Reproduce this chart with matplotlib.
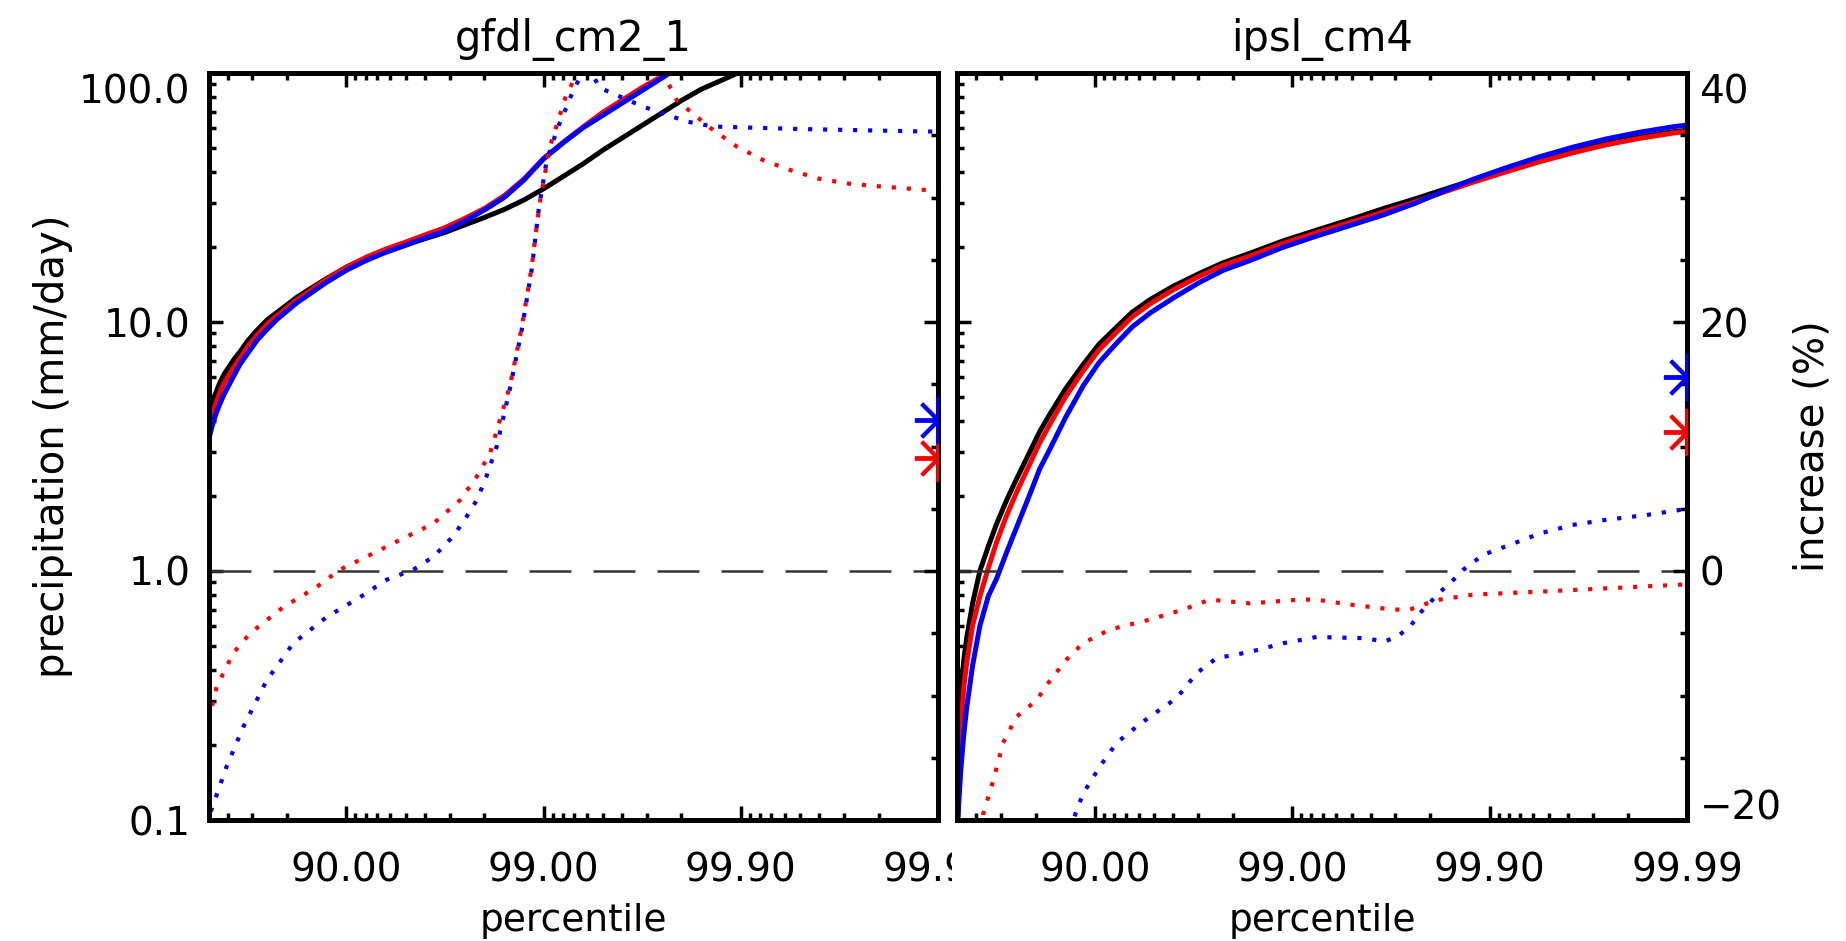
import numpy as np
import matplotlib
matplotlib.use("Agg")
import matplotlib.pyplot as plt
from matplotlib.patches import Rectangle
from matplotlib.ticker import FixedLocator, NullFormatter, LogLocator, MultipleLocator

# ---------------------------------------------------------------- data
titles = ["gfdl_cm2_1", "ipsl_cm4"]

x_major = [90, 99, 99.9, 99.99]
x_major_labels = ["90.00", "99.00", "99.90", "99.99"]
x_minor = [60, 70, 80, 91, 92, 93, 94, 95, 96, 97, 98,
           99.1, 99.2, 99.3, 99.4, 99.5, 99.6, 99.7, 99.8,
           99.91, 99.92, 99.93, 99.94, 99.95, 99.96, 99.97, 99.98]
y_ticks = [0.1, 1, 10, 100]
y_labels = ["0.1", "1.0", "10.0", "100.0"]
pct_ticks = [-20, 0, 20, 40]
pct_labels = ["\u221220", "0", "20", "40"]

# gfdl_cm2_1 : precipitation at each percentile (mm/day)
gfdl_pct = [50.0, 52.14, 54.29, 56.35, 58.31, 60.19, 62.85, 65.33, 68.38, 71.82,
            74.88, 77.61, 80.05, 82.22, 84.15, 87.41, 90.0, 92.06, 93.69, 94.99,
            96.02, 96.84, 97.49, 98.005, 98.415, 98.741, 99.0, 99.206, 99.369, 99.499,
            99.602, 99.684, 99.749, 99.8005, 99.8415, 99.874, 99.9, 99.911]
gfdl_black = [4.27, 4.79, 5.25, 5.75, 6.17, 6.53, 7.08, 7.59, 8.41, 9.33,
              10.23, 10.96, 11.75, 12.59, 13.34, 14.96, 16.6, 17.99, 19.28, 20.42,
              21.63, 22.91, 24.55, 26.3, 28.31, 30.9, 34.28, 38.46, 43.15, 48.98,
              54.95, 61.66, 69.18, 77.62, 86.1, 93.3, 101.2, 104.7]
gfdl_red = [3.76, 4.28, 4.75, 5.26, 5.68, 6.04, 6.61, 7.13, 7.98, 8.91,
            9.84, 10.62, 11.43, 12.3, 13.09, 14.86, 16.63, 18.2, 19.63, 20.94,
            22.39, 23.93, 26.06, 28.58, 32.14, 37.5, 45.4, 52.8, 60.7, 69.5,
            78.0, 87.5, 97.0, 105.9]
gfdl_blue = [3.35, 3.85, 4.32, 4.73, 5.13, 5.5, 6.1, 6.76, 7.5, 8.51,
             9.38, 10.28, 11.09, 11.97, 12.74, 14.45, 16.14, 17.66, 19.05, 20.32,
             21.78, 23.17, 25.41, 28.18, 31.62, 37.15, 45.19, 52.48, 60.26, 67.61,
             75.86, 85.11, 95.5, 107.2]

# gfdl_cm2_1 : percentage increase
gfdl_red_inc_p = [50.0, 54.5, 62.5, 69.2, 79.1, 85.8, 89.2, 92.1, 94.65, 96.37, 97.35,
                  97.82, 98.13, 98.52, 98.71, 98.85, 98.95, 99.067, 99.224, 99.345,
                  99.487, 99.637, 99.743, 99.789, 99.857, 99.895, 99.923, 99.944,
                  99.960, 99.972, 99.980, 99.9886, 99.99]
gfdl_red_inc = [-12.0, -9.3, -6.6, -5.0, -2.9, -1.3, 0.1, 1.15, 2.5, 3.8, 5.7,
                7.6, 9.45, 14.9, 19.6, 24.4, 29.4, 34.0, 38.0, 40.5,
                42.0, 42.0, 40.5, 37.8, 35.6, 34.1, 33.0, 32.2,
                31.5, 31.1, 30.9, 30.6, 30.6]
gfdl_blue_inc_p = [50.0, 50.8, 59.5, 66.7, 74.6, 81.4, 87.4, 91.47, 93.75, 95.42, 96.38,
                   97.13, 97.55, 97.82, 98.05, 98.27, 98.52, 98.71, 98.85, 98.94,
                   99.036, 99.157, 99.236, 99.292, 99.345, 99.418, 99.482, 99.687,
                   99.812, 99.862, 99.95, 99.9886, 99.99]
gfdl_blue_inc = [-20.5, -19.5, -15.7, -12.5, -8.8, -5.8, -3.7, -2.1, -0.7, 0.1, 1.15,
                 2.8, 4.4, 5.7, 7.6, 10.0, 14.7, 19.4, 24.2, 29.0,
                 33.0, 35.7, 37.3, 38.6, 39.6, 40.2, 38.8, 37.3,
                 36.1, 35.7, 35.5, 35.3, 35.3]
gfdl_star_red, gfdl_star_blue = 9.1, 12.1

# ipsl_cm4 : precipitation at each percentile (mm/day)
ipsl_pct = [50.0, 51.02, 52.14, 53.76, 55.33, 58.31, 61.72, 65.33, 68.52, 71.82,
            75.05, 78.67, 80.95, 83.1, 85.87, 88.54, 90.45, 92.24, 93.54, 94.74,
            96.02, 97.06, 97.76, 98.36, 98.878, 99.247, 99.499, 99.653, 99.760, 99.841,
            99.879, 99.9168, 99.9443, 99.962, 99.9744, 99.9826, 99.9883, 99.99]
ipsl_black = [0.120, 0.191, 0.316, 0.437, 0.537, 0.741, 1.0, 1.259, 1.549, 1.905,
              2.344, 3.02, 3.63, 4.27, 5.37, 6.76, 8.13, 9.55, 10.96, 12.3,
              13.96, 15.7, 17.3, 18.88, 21.13, 23.39, 25.88, 28.51, 31.19, 34.67,
              37.15, 40.74, 44.77, 48.53, 52.24, 55.34, 58.07, 58.88]
ipsl_red = [0.09, 0.141, 0.229, 0.339, 0.427, 0.603, 0.791, 1.03, 1.306, 1.652,
            2.07, 2.70, 3.27, 3.89, 4.99, 6.37, 7.71, 9.11, 10.5, 11.82,
            13.51, 15.29, 16.89, 18.39, 20.63, 22.85, 25.21, 27.63, 30.28, 33.9,
            36.45, 40.03, 44.03, 47.78, 51.51, 54.64, 57.43, 58.24]
ipsl_blue = [0.079, 0.117, 0.158, 0.219, 0.282, 0.417, 0.603, 0.794, 0.933, 1.175,
             1.496, 2.04, 2.57, 3.09, 4.12, 5.55, 6.86, 8.23, 9.57, 10.86,
             12.53, 14.45, 16.13, 17.65, 19.91, 22.14, 24.51, 26.88, 29.92, 34.32,
             37.45, 41.54, 46.11, 50.33, 54.37, 57.81, 60.87, 61.78]

# ipsl_cm4 : percentage increase
ipsl_red_inc_p = [62.0, 63.2, 67.3, 70.8, 75.05, 80.2, 83.1, 86.1, 88.5, 91.6, 94.74,
                  96.43, 97.38, 98.36, 99.084, 99.247, 99.49, 99.691, 99.746, 99.783,
                  99.821, 99.879, 99.944, 99.974, 99.9891, 99.99]
ipsl_red_inc = [-22.0, -19.5, -16.8, -13.8, -11.7, -10.4, -8.8, -7.1, -5.8, -4.7, -3.9,
                -3.1, -2.3, -2.6, -2.3, -2.3, -2.7, -3.1, -3.1, -2.7,
                -2.3, -1.9, -1.66, -1.4, -1.1, -1.1]
ipsl_blue_inc_p = [85.9, 87.1, 88.5, 90.56, 92.24, 93.85, 94.74, 96.15, 96.95, 97.58,
                   98.36, 98.89, 99.247, 99.579, 99.637, 99.653, 99.704, 99.746, 99.774,
                   99.821, 99.841, 99.864, 99.892, 99.924, 99.944, 99.962, 99.974,
                   99.984, 99.9891, 99.99]
ipsl_blue_inc = [-22.0, -20.0, -17.9, -15.7, -13.8, -12.5, -11.7, -10.2, -8.2, -7.0,
                 -6.5, -5.8, -5.3, -5.4, -5.6, -5.7, -5.3, -4.5, -3.4,
                 -1.7, -1.0, 0.1, 1.3, 2.2, 3.0, 3.7, 4.1,
                 4.5, 4.9, 4.9]
ipsl_star_red, ipsl_star_blue = 11.2, 15.6

# ---------------------------------------------------------------- scale
def to_exceed(p):
    p = np.asarray(p, dtype=float)
    return -np.log10(np.clip(1.0 - p / 100.0, 1e-9, None))


def from_exceed(t):
    return 100.0 * (1.0 - 10.0 ** (-np.asarray(t, dtype=float)))


# ---------------------------------------------------------------- figure
W, H = 1846, 941
fig = plt.figure(figsize=(W / 100, H / 100), dpi=100)
fig.patch.set_facecolor("white")


def frame(x0, x1, ytop, ybot):
    return [x0 / W, (H - ybot) / H, (x1 - x0) / W, (ybot - ytop) / H]


FS_TICK = 28
FS_LABEL = 29
LW_SOLID = 3.6
LW_DOT = 3.0
DOT = (0, (1, 2.6))


def style_panel(ax, title, left_labels, right_labels):
    ax.set_xscale("function", functions=(to_exceed, from_exceed))
    ax.set_yscale("log")
    ax.set_xlim(50, 99.99)
    ax.set_ylim(0.1, 100)
    ax.xaxis.set_major_locator(FixedLocator(x_major))
    ax.set_xticklabels(x_major_labels)
    ax.xaxis.set_minor_locator(FixedLocator(x_minor))
    ax.xaxis.set_minor_formatter(NullFormatter())
    ax.yaxis.set_major_locator(FixedLocator(y_ticks))
    ax.set_yticklabels(y_labels)
    ax.yaxis.set_minor_locator(LogLocator(base=10, subs=range(2, 10)))
    ax.yaxis.set_minor_formatter(NullFormatter())
    ax.tick_params(axis="both", which="both", direction="in", top=True,
                   right=False, color="black", width=2.5, labelsize=FS_TICK)
    ax.tick_params(axis="both", which="major", length=10)
    ax.tick_params(axis="both", which="minor", length=5)
    ax.tick_params(axis="x", which="major", pad=23)
    ax.tick_params(axis="y", which="major", pad=13, labelleft=left_labels)
    for s in ax.spines.values():
        s.set_linewidth(3.4)
    ax.set_title(title, fontsize=30, pad=16)
    ax.set_xlabel("percentile", fontsize=27)
    ax.xaxis.set_label_coords(0.5, -0.111)

    tw = ax.twinx()
    tw.set_ylim(-20, 40)
    tw.yaxis.set_major_locator(FixedLocator(pct_ticks))
    tw.set_yticklabels(pct_labels)
    tw.yaxis.set_minor_locator(MultipleLocator(5))
    tw.tick_params(axis="y", which="both", direction="in", right=True, left=False,
                   color="black", width=2.5, labelsize=FS_TICK,
                   labelright=right_labels)
    tw.tick_params(axis="y", which="major", length=10, pad=9)
    tw.tick_params(axis="y", which="minor", length=5)
    for s in tw.spines.values():
        s.set_linewidth(3.4)

    if left_labels:
        ticks = ax.yaxis.get_major_ticks()
        ticks[0].label1.set_va("center_baseline")
        ticks[-1].label1.set_va("top")
    if right_labels:
        ticks = tw.yaxis.get_major_ticks()
        ticks[0].label2.set_va("baseline")
        ticks[-1].label2.set_va("top")

    tw.axhline(0, color="#333333", lw=1.8, dashes=(16.8, 8.8), zorder=1)
    return tw


def draw_panel(ax, tw, pct, black, red, blue, red_inc, blue_inc, stars):
    ax.plot(pct[:len(black)], black, color="black", lw=LW_SOLID)
    ax.plot(pct[:len(red)], red, color="red", lw=LW_SOLID)
    ax.plot(pct[:len(blue)], blue, color="blue", lw=LW_SOLID)
    tw.plot(red_inc[0], red_inc[1], color="red", lw=LW_DOT, linestyle=DOT)
    tw.plot(blue_inc[0], blue_inc[1], color="blue", lw=LW_DOT, linestyle=DOT)
    tw.plot([99.99], [stars[0]], linestyle="none", marker=(8, 2, 0), ms=34,
            mew=2.8, color="red", clip_on=True, zorder=3)
    tw.plot([99.99], [stars[1]], linestyle="none", marker=(8, 2, 0), ms=34,
            mew=2.8, color="blue", clip_on=True, zorder=3)


ax_l = fig.add_axes(frame(208.6, 938, 73, 820))
ax_r = fig.add_axes(frame(957, 1687, 73, 820))

tw_l = style_panel(ax_l, titles[0], left_labels=True, right_labels=False)
tw_r = style_panel(ax_r, titles[1], left_labels=False, right_labels=True)

draw_panel(ax_l, tw_l, gfdl_pct, gfdl_black, gfdl_red, gfdl_blue,
           (gfdl_red_inc_p, gfdl_red_inc), (gfdl_blue_inc_p, gfdl_blue_inc),
           (gfdl_star_red, gfdl_star_blue))
draw_panel(ax_r, tw_r, ipsl_pct, ipsl_black, ipsl_red, ipsl_blue,
           (ipsl_red_inc_p, ipsl_red_inc), (ipsl_blue_inc_p, ipsl_blue_inc),
           (ipsl_star_red, ipsl_star_blue))

ax_l.set_ylabel("precipitation (mm/day)", fontsize=FS_LABEL)
ax_l.yaxis.set_label_coords(-0.186, 0.5)
tw_r.set_ylabel("increase (%)", fontsize=FS_LABEL)
tw_r.yaxis.set_label_coords(1.144, 0.5)

# the right panel's area hides the tail of the last left-panel tick label
fig.add_artist(Rectangle((952 / W, (H - 905) / H), (1036 - 952) / W, (905 - 826) / H,
                         transform=fig.transFigure, facecolor="white",
                         edgecolor="none", zorder=5))

fig.savefig("out.png", dpi=100, facecolor="white")
